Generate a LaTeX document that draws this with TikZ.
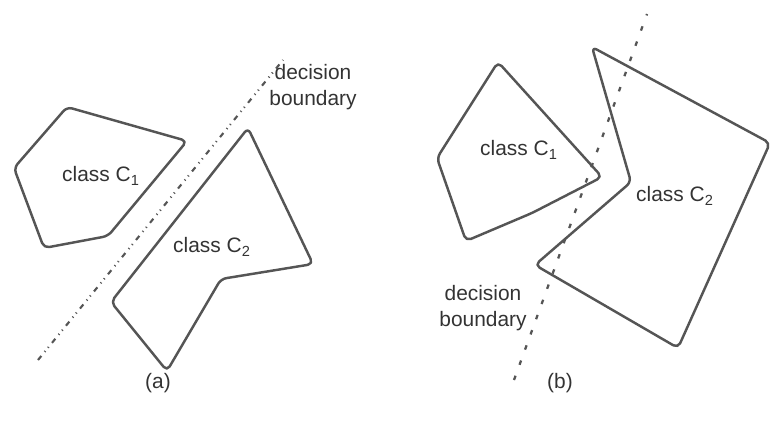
\documentclass[tikz,border=0pt]{standalone}
\usepackage{fontspec}
\setmainfont{Liberation Sans}
\usepackage{xcolor}
\definecolor{edgegray}{RGB}{85,85,85}
\definecolor{textgray}{RGB}{51,51,51}
\usetikzlibrary{positioning}

\begin{document}
\begin{tikzpicture}[x=0.02cm,y=-0.02cm,
  region/.style={draw=edgegray,line width=1.4pt,rounded corners=3pt,line join=round},
  label/.style={text=textgray,font=\fontsize{11.9}{14.6}\selectfont,align=center,inner sep=0pt},
  boundA/.style={draw=edgegray,line width=1.2pt,dash pattern=on 3pt off 3pt on 0.6pt off 2.4pt on 0.6pt off 3pt},
  boundB/.style={draw=edgegray,line width=1.3pt,dash pattern=on 2.6pt off 6.6pt}]
  \useasboundingbox (0,0) rectangle (771,423);
  % (a) linearly separable
  \draw[region] (67,107) -- (187,141) -- (108,236) -- (44,248) -- (14,168) -- cycle;
  \draw[region] (248,128) -- (313,264) -- (221,279) -- (167,371) -- (111,302) -- cycle;
  \coordinate (a0) at (38,360);
  \coordinate (a1) at (283,60);
  \draw[boundA] (a0) -- (a1);
  \node[label] (c1a) at (101,176) {class C\textsubscript{1}};
  \node[label] (c2a) at (212,247) {class C\textsubscript{2}};
  \node[label] (dba) at (313,87) {decision\\boundary};
  \node[label] (capa) at (158,383) {(a)};
  % (b) not separable
  \draw[region] (498,62) -- (602,177) -- (532,213) -- (466,241) -- (437,158) -- cycle;
  \draw[region] (592,47) -- (770,143) -- (678,348) -- (535,265) -- (631,182) -- cycle;
  \coordinate (b0) at (514,380);
  \coordinate (b1) at (647,14);
  \draw[boundB] (b0) -- (b1);
  \node[label] (c1b) at (519,150) {class C\textsubscript{1}};
  \node[label] (c2b) at (675,196) {class C\textsubscript{2}};
  \node[label] (dbb) at (483,308) {decision\\boundary};
  \node[label] (capb) at (560,383) {(b)};
\end{tikzpicture}
\end{document}
